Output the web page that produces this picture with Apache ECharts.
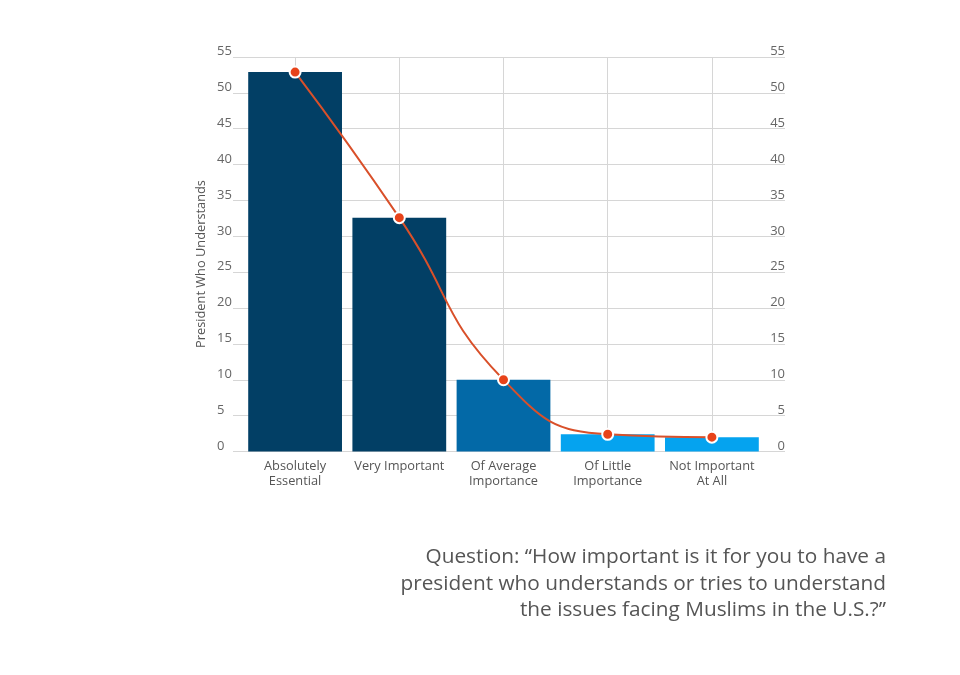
<!DOCTYPE html>
<html>
<head>
<meta charset="utf-8">
<script src="https://cdn.jsdelivr.net/npm/echarts@6/dist/echarts.min.js"></script>
<style>
html,body{margin:0;padding:0;background:#fff;}
#chart{width:960px;height:675px;}
</style>
</head>
<body>
<div id="chart"></div>
<script>
var categories = ['Absolutely\nEssential', 'Very Important', 'Of Average\nImportance', 'Of Little\nImportance', 'Not Important\nAt All'];
var barValues = [52.9, 32.6, 10.0, 2.4, 2.0];
var lineValues = [52.9, 32.6, 10.0, 2.4, 2.0];
var barColors = ['#023f65', '#023f65', '#0369a7', '#05a3ef', '#05a3ef'];
var yTicks = [0, 5, 10, 15, 20, 25, 30, 35, 40, 45, 50, 55];
var yAxisTitle = 'President Who Understands';
var questionLines = ['Question: \u201cHow important is it for you to have a', 'president who understands or tries to understand', 'the issues facing Muslims in the U.S.?\u201d'];

var FONT = 'Open Sans';
var chart = echarts.init(document.getElementById('chart'));
var yMax = yTicks[yTicks.length - 1];
var yStep = yTicks[1] - yTicks[0];

chart.setOption({
  animation: false,
  backgroundColor: '#ffffff',
  grid: [
    {left: 233, right: 175, top: 57, bottom: 223.5},
    {left: 243, right: 196, top: 57, bottom: 223.5}
  ],
  xAxis: [
    {gridIndex: 0, type: 'value', min: 0, max: 1, show: false},
    {gridIndex: 1, type: 'category', data: categories,
      axisLine: {show: false}, axisTick: {show: false},
      axisLabel: {color: '#555', fontFamily: FONT, fontSize: 12.8, lineHeight: 15, margin: 7, interval: 0},
      splitLine: {show: true, alignWithLabel: true, lineStyle: {color: '#d6d6d6', width: 1}}
    }
  ],
  yAxis: [
    {gridIndex: 0, type: 'value', min: 0, max: yMax, interval: yStep, position: 'left',
      axisLine: {show: false}, axisTick: {show: false},
      axisLabel: {color: '#666', fontFamily: FONT, fontSize: 13, margin: 16, align: 'left', verticalAlign: 'bottom', padding: [0, 0, -1, 0]},
      splitLine: {show: true, lineStyle: {color: '#d6d6d6', width: 1}}
    },
    {gridIndex: 0, type: 'value', min: 0, max: yMax, interval: yStep, position: 'right',
      axisLine: {show: false}, axisTick: {show: false},
      axisLabel: {inside: true, color: '#666', fontFamily: FONT, fontSize: 13, margin: 0, align: 'right', verticalAlign: 'bottom', padding: [0, 0, -1, 0]},
      splitLine: {show: false}
    },
    {gridIndex: 1, type: 'value', min: 0, max: yMax, interval: yStep, show: false, splitLine: {show: false}}
  ],
  series: [
    {type: 'bar', xAxisIndex: 1, yAxisIndex: 2, barCategoryGap: '10%',
      data: barValues.map(function (v, i) { return {value: v, itemStyle: {color: barColors[i]}}; }),
      z: 2
    },
    {type: 'line', xAxisIndex: 1, yAxisIndex: 2, data: lineValues, smooth: true,
      symbol: 'circle', symbolSize: 11,
      lineStyle: {color: '#d9502a', width: 2},
      itemStyle: {color: '#e8431a', borderColor: '#ffffff', borderWidth: 2},
      z: 5
    }
  ],
  graphic: [
    {type: 'text', x: 201, y: 264, rotation: Math.PI / 2,
      style: {text: yAxisTitle, fill: '#555', font: '12.8px "' + FONT + '"', textAlign: 'center', textVerticalAlign: 'middle'}},
    {type: 'text', x: 886, y: 544,
      style: {text: questionLines.join('\n'), fill: '#555', font: '20.8px "' + FONT + '"', lineHeight: 26.5, textAlign: 'right', textVerticalAlign: 'top'}}
  ]
});
</script>
</body>
</html>
